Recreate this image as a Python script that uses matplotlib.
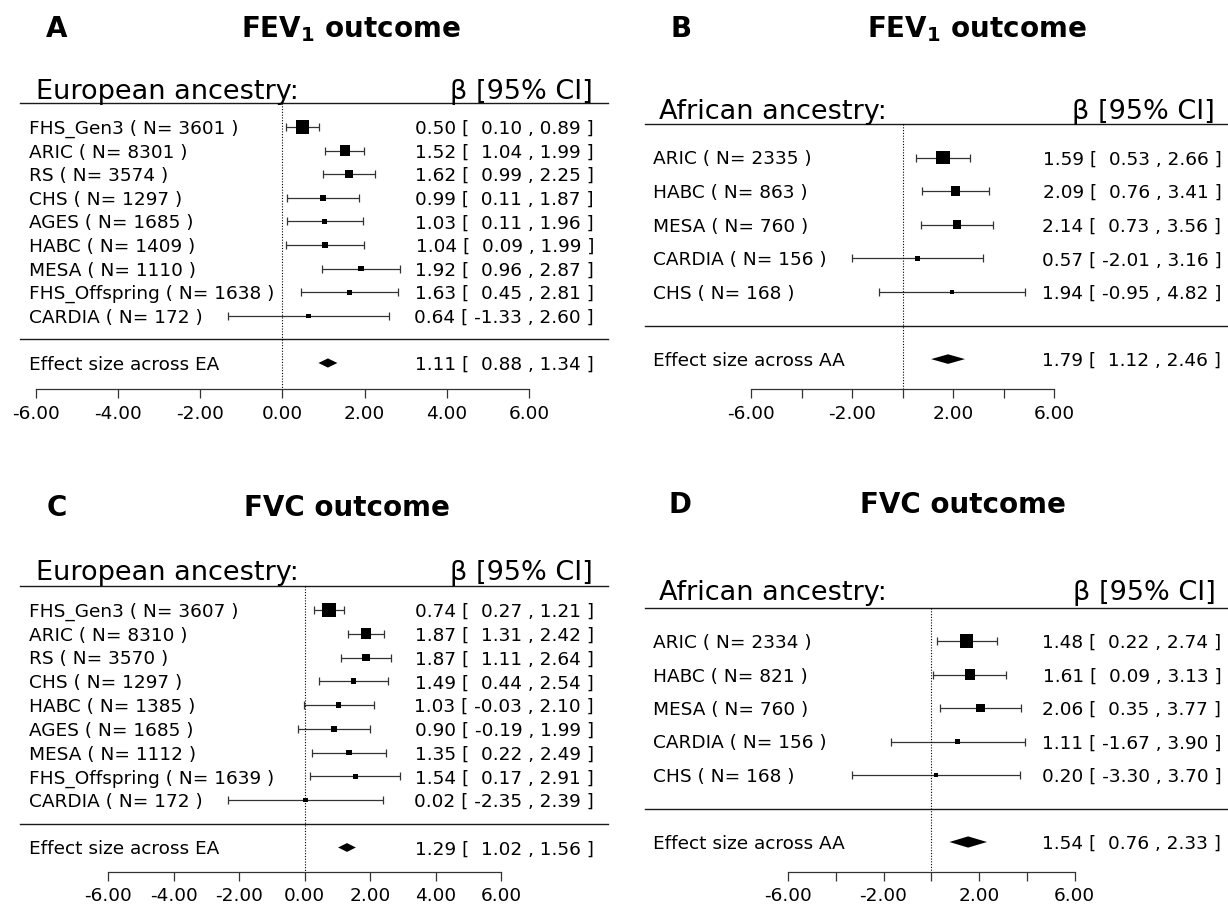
import numpy as np
import matplotlib
matplotlib.use('Agg')
import matplotlib.pyplot as plt

plt.rcParams['font.family'] = ['DejaVu Sans']
plt.rcParams['axes.unicode_minus'] = False
plt.rcParams['mathtext.fontset'] = 'dejavusans'

# A: FEV1, European ancestry
a_study = ['FHS_Gen3', 'ARIC', 'RS', 'CHS', 'AGES', 'HABC', 'MESA', 'FHS_Offspring', 'CARDIA']
a_n = [3601, 8301, 3574, 1297, 1685, 1409, 1110, 1638, 172]
a_beta = [0.50, 1.52, 1.62, 0.99, 1.03, 1.04, 1.92, 1.63, 0.64]
a_lo = [0.10, 1.04, 0.99, 0.11, 0.11, 0.09, 0.96, 0.45, -1.33]
a_hi = [0.89, 1.99, 2.25, 1.87, 1.96, 1.99, 2.87, 2.81, 2.60]
a_pooled = [1.11, 0.88, 1.34]

# B: FEV1, African ancestry
b_study = ['ARIC', 'HABC', 'MESA', 'CARDIA', 'CHS']
b_n = [2335, 863, 760, 156, 168]
b_beta = [1.59, 2.09, 2.14, 0.57, 1.94]
b_lo = [0.53, 0.76, 0.73, -2.01, -0.95]
b_hi = [2.66, 3.41, 3.56, 3.16, 4.82]
b_pooled = [1.79, 1.12, 2.46]

# C: FVC, European ancestry
c_study = ['FHS_Gen3', 'ARIC', 'RS', 'CHS', 'HABC', 'AGES', 'MESA', 'FHS_Offspring', 'CARDIA']
c_n = [3607, 8310, 3570, 1297, 1385, 1685, 1112, 1639, 172]
c_beta = [0.74, 1.87, 1.87, 1.49, 1.03, 0.90, 1.35, 1.54, 0.02]
c_lo = [0.27, 1.31, 1.11, 0.44, -0.03, -0.19, 0.22, 0.17, -2.35]
c_hi = [1.21, 2.42, 2.64, 2.54, 2.10, 1.99, 2.49, 2.91, 2.39]
c_pooled = [1.29, 1.02, 1.56]

# D: FVC, African ancestry
d_study = ['ARIC', 'HABC', 'MESA', 'CARDIA', 'CHS']
d_n = [2334, 821, 760, 156, 168]
d_beta = [1.48, 1.61, 2.06, 1.11, 0.20]
d_lo = [0.22, 0.09, 0.35, -1.67, -3.30]
d_hi = [2.74, 3.13, 3.77, 3.90, 3.70]
d_pooled = [1.54, 0.76, 2.33]

W, H = 1228, 907
fig = plt.figure(figsize=(W / 100, H / 100), dpi=100)

FS = 13.3


def ci_text(b, lo, hi):
    return f'{b:.2f} [ {lo:5.2f} , {hi:.2f} ]'


def forest(lay, study, n, beta, lo, hi, pooled, group, tag):
    x0, y0, x1, y1 = lay['box']
    zero, unit, row0, sp = lay['zero'], lay['unit'], lay['row0'], lay['sp']
    ax = fig.add_axes([x0 / W, 1 - y1 / H, (x1 - x0) / W, (y1 - y0) / H])
    ax.set_xlim((x0 - zero) / unit, (x1 - zero) / unit)
    ax.set_ylim((y1 - row0) / sp, (y0 - row0) / sp)
    ax.set_facecolor('none')

    beta, lo, hi = np.array(beta), np.array(lo), np.array(hi)
    k = np.arange(len(beta))
    m = len(beta)

    # square size from inverse-variance weight
    se = (hi - lo) / 3.92
    w = 1 / se ** 2
    psize = 0.5 + (w - w.min()) / (w.max() - w.min())
    side_pt = psize * 8.8 * 0.72

    ax.errorbar(beta, k, xerr=[beta - lo, hi - beta], fmt='none', ecolor='#333333',
                elinewidth=0.9, capsize=2.7, capthick=0.9)
    ax.scatter(beta, k, s=side_pt ** 2, marker='s', color='black', linewidths=0, zorder=3)

    pb, pl, ph = pooled
    dh = lay['diam'] / sp
    ax.fill([pl, pb, ph, pb], [m + 1, m + 1 - dh, m + 1, m + 1 + dh], color='black', lw=0)

    fx0 = (lay['lines'][0] - x0) / (x1 - x0)
    fx1 = (lay['lines'][1] - x0) / (x1 - x0)
    ax.axhline(-1, fx0, fx1, color='#1a1a1a', lw=1.0)
    ax.axhline(m, fx0, fx1, color='#1a1a1a', lw=1.0)

    kax = (lay['axis_y'] - row0) / sp
    ax.vlines(0, -1, kax, colors='black', linestyles=(0, (1, 1.5)), lw=0.8)

    tr = ax.get_yaxis_transform()
    lx = (lay['lab_x'] - x0) / (x1 - x0)
    vx = (lay['val_x'] - x0) / (x1 - x0)
    for i in range(m):
        ax.text(lx, i, f'{study[i]} ( N= {n[i]} )', transform=tr, ha='left',
                va='center_baseline', fontsize=FS)
        ax.text(vx, i, ci_text(beta[i], lo[i], hi[i]), transform=tr, ha='right',
                va='center_baseline', fontsize=FS)
    ax.text(lx, m + 1, f'Effect size across {tag}', transform=tr, ha='left',
            va='center_baseline', fontsize=FS)
    ax.text(vx, m + 1, ci_text(pb, pl, ph), transform=tr, ha='right',
            va='center_baseline', fontsize=FS)

    # bottom axis
    for s in ['top', 'left', 'right']:
        ax.spines[s].set_visible(False)
    ax.spines['bottom'].set_position(('data', kax))
    ax.spines['bottom'].set_bounds(-6, 6)
    ax.spines['bottom'].set_color('#333333')
    ax.spines['bottom'].set_linewidth(0.9)
    ticks = np.arange(-6, 7, 2)
    ax.set_xticks(ticks)
    if lay['sparse']:
        labels = [f'{t:.2f}' if (t + 6) % 4 == 0 else '' for t in ticks]
    else:
        labels = [f'{t:.2f}' for t in ticks]
    ax.set_xticklabels(labels)
    ax.tick_params(axis='x', direction='out', length=6.5, width=0.9, color='#333333',
                   pad=4.5, labelsize=FS)
    ax.set_yticks([])

    # header
    fig.text(lay['head_left'] / W, 1 - lay['head_base'] / H, f'{group} ancestry:',
             ha='left', va='baseline', fontsize=19.5)
    fig.text(lay['head_right'] / W, 1 - lay['head_base'] / H, 'β [95% CI]',
             ha='right', va='baseline', fontsize=19.5)
    # panel letter and title
    fig.text(lay['letter'][0] / W, 1 - lay['letter'][1] / H, lay['tag'],
             ha='center', va='center_baseline', fontsize=20, fontweight='bold')
    fig.text(lay['title'][0] / W, 1 - lay['title'][1] / H, lay['title_txt'],
             ha='center', va='center_baseline', fontsize=20, fontweight='bold')
    return ax


fev = r'FEV$_\mathbf{1}$ outcome'
lay_a = dict(box=(0, 0, 614, 453), zero=282.3, unit=41.1, row0=127, sp=23.6, axis_y=389.3,
             lines=(20, 608), lab_x=29, val_x=594, head_base=99, head_left=36, head_right=593,
             diam=4.6, sparse=False, tag='A', letter=(57, 26), title=(351, 26), title_txt=fev)
lay_b = dict(box=(614, 0, 1228, 453), zero=902.8, unit=25.28, row0=157.5, sp=33.6, axis_y=389.3,
             lines=(645, 1228), lab_x=653, val_x=1221.5, head_base=119, head_left=659,
             head_right=1215, diam=4.8, sparse=True, tag='B', letter=(681, 26), title=(977, 26),
             title_txt=fev)
lay_c = dict(box=(0, 453, 614, 907), zero=304.7, unit=32.78, row0=610, sp=23.75, axis_y=871.7,
             lines=(20, 608), lab_x=29, val_x=594, head_base=580, head_left=36, head_right=593,
             diam=4.4, sparse=False, tag='C', letter=(57, 505), title=(347, 505),
             title_txt='FVC outcome')
lay_d = dict(box=(614, 453, 1228, 907), zero=931.3, unit=23.9, row0=641, sp=33.5, axis_y=871.7,
             lines=(645, 1228), lab_x=653, val_x=1221.5, head_base=600, head_left=659,
             head_right=1216, diam=5.6, sparse=True, tag='D', letter=(680, 502), title=(963, 502),
             title_txt='FVC outcome')

forest(lay_a, a_study, a_n, a_beta, a_lo, a_hi, a_pooled, 'European', 'EA')
forest(lay_b, b_study, b_n, b_beta, b_lo, b_hi, b_pooled, 'African', 'AA')
forest(lay_c, c_study, c_n, c_beta, c_lo, c_hi, c_pooled, 'European', 'EA')
forest(lay_d, d_study, d_n, d_beta, d_lo, d_hi, d_pooled, 'African', 'AA')

fig.savefig('out.png', dpi=100)
